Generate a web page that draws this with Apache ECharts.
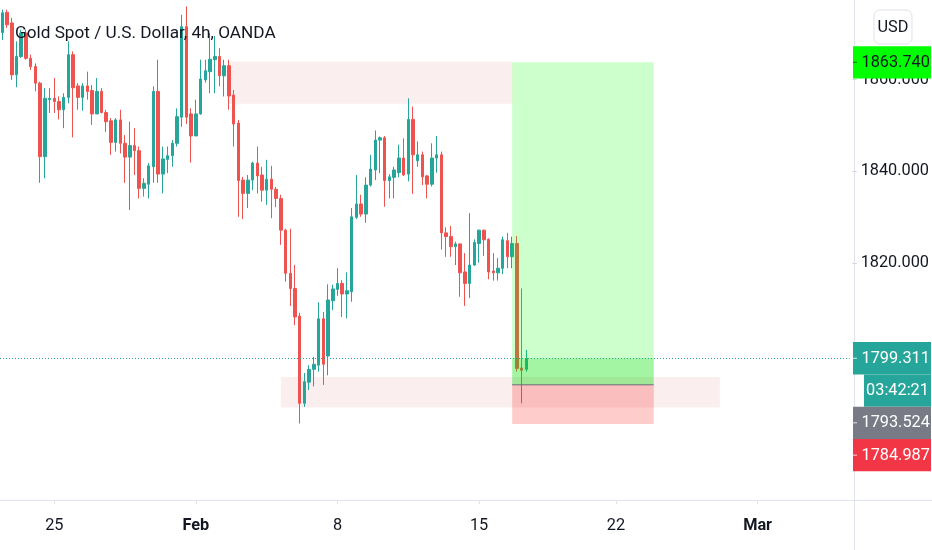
<!DOCTYPE html>
<html><head><meta charset="utf-8">
<script src="https://cdn.jsdelivr.net/npm/echarts@6/dist/echarts.min.js"></script>
<style>html,body{margin:0;padding:0;background:#fff}#main{width:932px;height:550px}</style>
</head><body><div id="main"></div>
<script>
const FONT = "Roboto, 'Noto Sans', sans-serif";
const title = 'Gold Spot / U.S. Dollar, 4h, OANDA';
// 4h candles: [open, close, low, high]
const ohlc = [
[1870.2,1874.5,1868.6,1875.2],[1874.6,1871.9,1871.2,1875.2],[1872.3,1861.0,1859.9,1873.4],[1861.0,1865.0,1858.3,1868.3],
[1865.0,1870.1,1864.7,1870.8],[1870.1,1864.6,1864.3,1870.8],[1864.6,1862.8,1862.1,1865.4],[1862.8,1859.2,1857.4,1863.5],
[1859.2,1843.2,1837.5,1859.5],[1843.2,1855.9,1838.5,1858.1],[1855.6,1855.9,1852.7,1858.1],[1855.9,1855.2,1852.7,1860.3],
[1855.2,1853.4,1851.3,1856.3],[1853.4,1856.1,1849.4,1857.0],[1856.1,1865.4,1854.8,1868.3],[1865.4,1858.2,1847.4,1866.1],
[1858.6,1856.1,1853.4,1859.2],[1856.1,1858.6,1853.2,1859.2],[1858.6,1857.4,1855.6,1861.7],[1857.6,1852.5,1850.1,1858.8],
[1852.5,1857.4,1852.5,1860.3],[1857.4,1852.8,1852.6,1858.1],[1852.8,1850.8,1848.6,1853.4],[1851.0,1846.3,1843.6,1851.6],
[1846.3,1851.2,1844.3,1851.6],[1851.2,1846.1,1843.9,1853.4],[1846.1,1843.1,1837.5,1847.9],[1843.1,1845.6,1831.6,1850.8],
[1845.6,1844.5,1839.2,1849.4],[1844.5,1836.3,1834.1,1845.4],[1836.3,1837.4,1834.5,1838.5],[1837.2,1841.2,1834.1,1841.8],
[1841.0,1857.4,1837.5,1858.5],[1857.4,1839.4,1837.5,1864.3],[1839.4,1842.7,1835.2,1845.4],[1842.6,1843.4,1839.6,1845.4],
[1843.4,1846.1,1841.0,1846.8],[1846.1,1851.9,1845.4,1853.7],[1851.8,1871.5,1849.7,1874.1],[1871.5,1851.8,1850.3,1875.9],
[1852.5,1847.7,1841.9,1853.7],[1847.7,1852.5,1847.7,1855.6],[1852.5,1860.1,1852.3,1864.3],[1859.9,1861.9,1859.3,1864.3],
[1861.7,1864.4,1857.0,1870.1],[1864.3,1865.0,1857.0,1869.5],[1865.0,1860.8,1858.5,1866.8],[1860.8,1863.0,1856.3,1864.3],
[1863.0,1856.4,1853.4,1864.3],[1856.6,1850.3,1845.4,1857.7],[1850.5,1838.0,1830.1,1851.2],[1838.1,1835.2,1829.6,1838.8],
[1835.2,1838.1,1832.0,1839.2],[1838.1,1841.8,1835.9,1842.1],[1841.8,1839.0,1835.2,1845.4],[1839.2,1835.9,1833.4,1841.0],
[1835.9,1838.3,1832.7,1842.5],[1838.3,1836.1,1829.8,1841.2],[1836.1,1834.1,1832.2,1836.6],[1834.1,1827.2,1824.0,1834.9],
[1827.2,1817.8,1816.0,1827.5],[1817.8,1814.5,1810.7,1827.5],[1814.5,1808.3,1806.5,1819.6],[1808.5,1789.5,1785.1,1809.2],
[1789.5,1794.2,1788.7,1796.1],[1794.1,1796.9,1792.4,1797.8],[1796.9,1798.0,1793.2,1799.6],[1797.8,1807.9,1796.4,1811.5],
[1807.9,1798.0,1793.5,1809.4],[1799.8,1812.0,1795.6,1815.4],[1811.8,1814.4,1809.8,1815.3],[1814.3,1815.6,1812.9,1818.9],
[1815.6,1813.3,1808.3,1816.3],[1813.3,1814.0,1808.0,1818.0],[1813.8,1830.1,1811.6,1832.0],[1830.0,1832.9,1829.6,1839.2],
[1832.9,1830.7,1830.1,1834.9],[1830.7,1837.0,1828.8,1838.7],[1837.0,1840.5,1836.7,1843.6],[1840.3,1846.8,1838.1,1848.9],
[1846.8,1847.3,1839.6,1847.6],[1847.3,1838.0,1832.3,1847.7],[1838.0,1838.8,1834.1,1839.4],[1838.7,1840.3,1834.1,1841.0],
[1839.7,1842.9,1838.7,1845.8],[1842.9,1839.2,1839.0,1847.2],[1839.4,1851.3,1837.8,1855.9],[1851.3,1843.6,1835.1,1854.1],
[1842.3,1843.6,1841.0,1846.5],[1843.6,1838.8,1837.0,1844.3],[1839.0,1837.2,1834.1,1839.2],[1837.2,1842.9,1836.7,1846.1],
[1842.9,1843.6,1839.7,1847.7],[1843.6,1826.6,1823.0,1844.3],[1826.6,1825.8,1821.4,1827.8],[1825.8,1823.6,1821.4,1828.1],
[1823.6,1824.2,1819.6,1824.7],[1824.2,1817.9,1812.7,1824.3],[1818.1,1815.6,1810.7,1822.2],[1815.6,1819.6,1812.4,1830.9],
[1819.6,1824.5,1819.4,1825.2],[1824.3,1827.2,1820.1,1827.3],[1827.2,1825.1,1821.6,1827.3],[1825.2,1818.1,1816.5,1825.4],
[1818.3,1817.9,1816.2,1822.2],[1817.9,1818.9,1816.2,1821.1],[1818.9,1825.1,1817.6,1825.8],[1824.9,1821.4,1818.9,1826.6],
[1821.4,1824.3,1818.9,1825.8],[1824.3,1797.1,1796.4,1825.9],[1797.2,1796.7,1789.5,1814.5],[1796.9,1799.311,1796.4,1801.1]
];
const slotCount = 180;
const tickIndex = [11, 41, 71, 101, 130, 160];
const tickText = ['25', 'Feb', '8', '15', '22', 'Mar'];
const boldTicks = ['Feb', 'Mar'];
const priceTicks = [1820, 1840, 1860];
const yMin = 1768.45, yMax = 1877.3;
// supply / demand zones
const zoneStart = [48, 59];
const zoneEnd = [108, 152];
const zoneLow = [1854.7, 1788.6];
const zoneHigh = [1863.9, 1795.2];
// long position tool
const posStart = 108, posEnd = 138;
const entryPrice = 1793.524, targetPrice = 1863.740, stopPrice = 1784.987, lastPrice = 1799.311;
const countdown = '03:42:21';

const categories = Array.from({length: slotCount}, (_, i) => String(i));
const isTick = (idx) => tickIndex.indexOf(idx) >= 0;
const FS = 16.3;

const option = {
  animation: false,
  backgroundColor: '#ffffff',
  title: {
    text: title, left: 10, top: 20,
    textStyle: {fontFamily: FONT, fontSize: 17.2, fontWeight: 'normal', color: '#131722'}
  },
  grid: {left: -3.1, right: 81, top: 0, bottom: 50},
  xAxis: {
    type: 'category', data: categories, boundaryGap: true,
    axisLine: {show: true, lineStyle: {color: '#e0e3eb', width: 1}},
    axisTick: {show: true, alignWithLabel: true, interval: (i) => isTick(i), length: 4, lineStyle: {color: '#e0e3eb'}},
    axisLabel: {
      interval: (i) => isTick(i), margin: 18, fontFamily: FONT, fontSize: FS, color: '#131722',
      formatter: (v, i) => {
        const t = tickText[tickIndex.indexOf(i)];
        if (t === undefined) return '';
        return boldTicks.indexOf(t) >= 0 ? '{b|' + t + '}' : t;
      },
      rich: {b: {fontFamily: FONT, fontSize: FS, fontWeight: 'bold', color: '#131722'}}
    },
    splitLine: {show: false}
  },
  yAxis: {
    type: 'value', position: 'right', offset: 3, min: yMin, max: yMax, scale: true,
    axisLine: {show: false},
    axisTick: {show: true, customValues: priceTicks, length: 4, lineStyle: {color: '#c9ccd4'}},
    axisLabel: {customValues: priceTicks, margin: 8, fontFamily: FONT, fontSize: FS, color: '#131722',
      formatter: (v) => Number(v).toFixed(3)},
    splitLine: {show: false}
  },
  series: [
    {
      type: 'custom', z: 1, silent: true,
      data: zoneStart.map((s, i) => [s, zoneEnd[i], zoneLow[i], zoneHigh[i]]),
      encode: {x: [0, 1], y: [2, 3]},
      renderItem: (params, api) => {
        const a = api.coord([api.value(0), api.value(3)]);
        const b = api.coord([api.value(1), api.value(2)]);
        return {type: 'rect', shape: {x: a[0], y: a[1], width: b[0] - a[0], height: b[1] - a[1]},
          style: {fill: 'rgba(205,70,70,0.09)'}};
      }
    },
    {
      type: 'candlestick', z: 2, data: ohlc, barWidth: 3,
      itemStyle: {color: '#26a69a', color0: '#ef5350', borderColor: '#26a69a', borderColor0: '#ef5350', borderWidth: 1}
    },
    {
      type: 'custom', z: 3, silent: true,
      data: [[posStart, posEnd, stopPrice, entryPrice, lastPrice, targetPrice]],
      encode: {x: [0, 1], y: [2, 5]},
      renderItem: (params, api) => {
        const x0 = api.coord([api.value(0), api.value(3)])[0];
        const x1 = api.coord([api.value(1), api.value(3)])[0];
        const yS = api.coord([api.value(0), api.value(2)])[1];
        const yE = api.coord([api.value(0), api.value(3)])[1];
        const yL = api.coord([api.value(0), api.value(4)])[1];
        const yT = api.coord([api.value(0), api.value(5)])[1];
        return {type: 'group', children: [
          {type: 'rect', shape: {x: x0, y: yT, width: x1 - x0, height: yE - yT}, style: {fill: 'rgba(0,255,0,0.2)'}},
          {type: 'rect', shape: {x: x0, y: yL, width: x1 - x0, height: yE - yL}, style: {fill: 'rgba(0,200,0,0.2)'}},
          {type: 'rect', shape: {x: x0, y: yE, width: x1 - x0, height: yS - yE}, style: {fill: 'rgba(255,0,0,0.2)'}},
          {type: 'line', shape: {x1: x0, y1: yE, x2: x1, y2: yE}, style: {stroke: '#6a6d78', lineWidth: 1}}
        ]};
      }
    },
    {
      type: 'line', z: 5, data: [], silent: true,
      markLine: {symbol: 'none', silent: true, label: {show: false},
        lineStyle: {type: [1, 2], color: '#26a69a', width: 1},
        data: [{yAxis: lastPrice}]}
    }
  ]
};

const chart = echarts.init(document.getElementById('main'));
chart.setOption(option);

const py = (p) => chart.convertToPixel({yAxisIndex: 0}, p);
const H = 32.3;
// stacked right-scale labels, in top-to-bottom order; countdown sits right under the last price
const labels = [
  {y: py(targetPrice), text: targetPrice.toFixed(3), bg: '#00ff00', fg: '#131722', x: 853, w: 78, tick: 'rgba(0,0,0,0.6)'},
  {y: py(lastPrice), text: lastPrice.toFixed(3), bg: '#26a69a', fg: '#ffffff', x: 853, w: 78, tick: 'rgba(255,255,255,0.8)'},
  {y: -1e9, text: countdown, bg: '#26a69a', fg: '#ffffff', x: 864, w: 67, center: true},
  {y: py(entryPrice), text: entryPrice.toFixed(3), bg: '#787b86', fg: '#ffffff', x: 853, w: 78, tick: 'rgba(255,255,255,0.8)'},
  {y: py(stopPrice), text: stopPrice.toFixed(3), bg: '#f23645', fg: '#ffffff', x: 853, w: 78, tick: 'rgba(255,255,255,0.8)'}
];
let bottom = -1e9;
const g = [
  {type: 'line', z: 90, shape: {x1: 854.5, y1: 0, x2: 854.5, y2: 550}, style: {stroke: '#e0e3eb', lineWidth: 1}},
  {type: 'line', z: 90, shape: {x1: 0, y1: 500.5, x2: 932, y2: 500.5}, style: {stroke: '#e0e3eb', lineWidth: 1}},
  {type: 'rect', z: 100, shape: {x: 874, y: 10, width: 38, height: 34, r: 6}, style: {fill: '#ffffff', stroke: '#e0e3eb', lineWidth: 1}},
  {type: 'text', z: 101, style: {x: 893, y: 27.5, text: 'USD', fill: '#131722', font: FS + 'px ' + FONT, align: 'center', verticalAlign: 'middle'}}
];
labels.forEach((l) => {
  const top = Math.max(l.y - H / 2, bottom);
  bottom = top + H;
  g.push({type: 'rect', z: 100, shape: {x: l.x, y: top, width: l.w, height: H}, style: {fill: l.bg}});
  if (l.tick) g.push({type: 'line', z: 101, shape: {x1: l.x, y1: top + H / 2, x2: l.x + 4, y2: top + H / 2}, style: {stroke: l.tick, lineWidth: 1}});
  g.push({type: 'text', z: 101, style: {
    x: l.center ? l.x + l.w / 2 : 861.5, y: top + H / 2 + 0.5, text: l.text, fill: l.fg,
    font: FS + 'px ' + FONT, align: l.center ? 'center' : 'left', verticalAlign: 'middle'}});
});
chart.setOption({graphic: g});
</script>
</body></html>
